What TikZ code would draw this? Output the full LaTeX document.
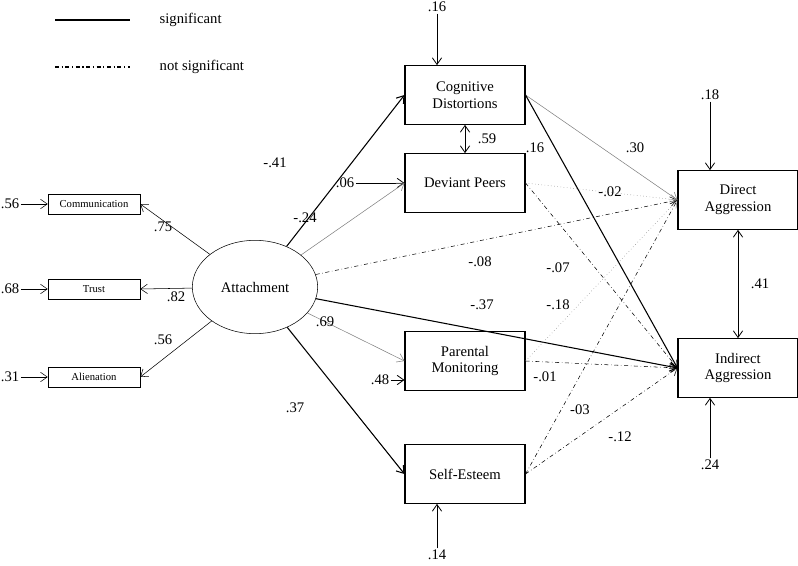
\documentclass[tikz,border=0pt]{standalone}
\usepackage{fontspec}
\setmainfont{Liberation Serif}
\usetikzlibrary{shapes.geometric,arrows.meta}

\begin{document}
\begin{tikzpicture} [
    x=0.75pt, y=-0.75pt,
    font=\fontsize{11}{12.5}\selectfont,
    >={Straight Barb[length=5pt,width=7pt]},
    box/.style      = { rectangle, draw, thick, align=center,
                        minimum width=90pt, minimum height=44pt },
    small/.style    = { rectangle, draw, font=\fontsize{8}{9}\selectfont,
                        minimum width=69pt, minimum height=15pt },
    lbl/.style      = { inner sep=1pt },
    res/.style      = { draw, semithick, ->},
    sig/.style      = { draw, thick, ->},
    weak/.style     = { draw, gray, ->},
    ns/.style       = { draw, dash dot, ->},
    nsd/.style      = { draw, gray, dotted, ->},
  ]
  \useasboundingbox (0,0) rectangle (798,566);

  % legend
  \coordinate (l1a) at (55,20);  \coordinate (l1b) at (130,20);
  \coordinate (l2a) at (55,67);  \coordinate (l2b) at (130,67);
  \draw[thick] (l1a) -- (l1b);
  \draw[thick, dash dot] (l2a) -- (l2b);
  \node[anchor=west] (legsig) at (155,20) {significant};
  \node[anchor=west] (legns) at (155,67) {not significant};

  % measurement part
  \node[ellipse, draw, minimum width=94pt, minimum height=70pt] (attach) at (255,287) {Attachment};
  \node[small] (comm) at (94,204) {Communication};
  \node[small] (trust) at (94,289) {Trust};
  \node[small] (alien) at (94,377) {Alienation};
  \node[lbl] (ecomm) at (10,204) {.56};
  \node[lbl] (etrust) at (10,289) {.68};
  \node[lbl] (ealien) at (10,377) {.31};
  \foreach \m in {comm,trust,alien} {
    \path [draw, ->] (e\m) -- (\m);
    \path [draw, ->] (attach) -- (\m.east);
  }
  \node[lbl] at (163,227) {.75};
  \node[lbl] at (176,297) {.82};
  \node[lbl] at (163,340) {.56};

  % mediators and outcomes
  \node[box] (cog) at (465,95) {Cognitive\\Distortions};
  \node[box] (dev) at (465,183) {Deviant Peers};
  \node[box] (par) at (465,361) {Parental\\Monitoring};
  \node[box] (self) at (465,474) {Self-Esteem};
  \node[box] (dir) at (738,200) {Direct\\Aggression};
  \node[box] (ind) at (738,368) {Indirect\\Aggression};

  % residuals
  \node[lbl] (rcog) at (437,7) {.16};
  \node[lbl] (rdev) at (345,183) {.06};
  \node[lbl] (rpar) at (380,380) {.48};
  \node[lbl] (rself) at (437,555) {.14};
  \node[lbl] (rdir) at (710,95) {.18};
  \node[lbl] (rind) at (710,465) {.24};
  \path [res] (rcog) -- (rcog |- cog.north);
  \path [res] (rdev) -- (dev);
  \path [res] (rpar) -- (par.west |- rpar);
  \path [res] (rself) -- (rself |- self.south);
  \path [res] (rdir) -- (rdir |- dir.north);
  \path [res] (rind) -- (rind |- ind.south);

  % correlations
  \path [draw, semithick, <->] (cog) -- node[right=6pt]{.59} (dev);
  \path [draw, semithick, <->] (dir) -- node[right=6pt]{.41} (ind);

  % structural paths
  \path [sig]  (attach) -- (cog.west);
  \path [weak] (attach) -- (dev.west);
  \path [ns]   (attach) -- (dir.west);
  \path [sig]  (attach) -- (ind.west);
  \path [weak] (attach) -- (par.west);
  \path [sig]  (attach) -- (self.west);
  \path [weak] (cog.east) -- (dir.west);
  \path [sig]  (cog.east) -- (ind.west);
  \path [nsd]  (dev.east) -- (dir.west);
  \path [ns]   (dev.east) -- (ind.west);
  \path [nsd]  (par.east) -- (dir.west);
  \path [ns]   (par.east) -- (ind.west);
  \path [ns]   (self.east) -- (dir.west);
  \path [ns]   (self.east) -- (ind.west);

  % path labels
  \node[lbl] at (275,163) {-.41};
  \node[lbl] at (305,218) {-.24};
  \node[lbl] at (480,262) {-.08};
  \node[lbl] at (482,305) {-.37};
  \node[lbl] at (325,322) {.69};
  \node[lbl] at (295,408) {.37};
  \node[lbl] at (635,148) {.30};
  \node[lbl] at (535,148) {.16};
  \node[lbl] at (610,192) {-.02};
  \node[lbl] at (558,268) {-.07};
  \node[lbl] at (558,305) {-.18};
  \node[lbl] at (545,377) {-.01};
  \node[lbl] at (580,410) {-03};
  \node[lbl] at (620,437) {-.12};
\end{tikzpicture}
\end{document}
